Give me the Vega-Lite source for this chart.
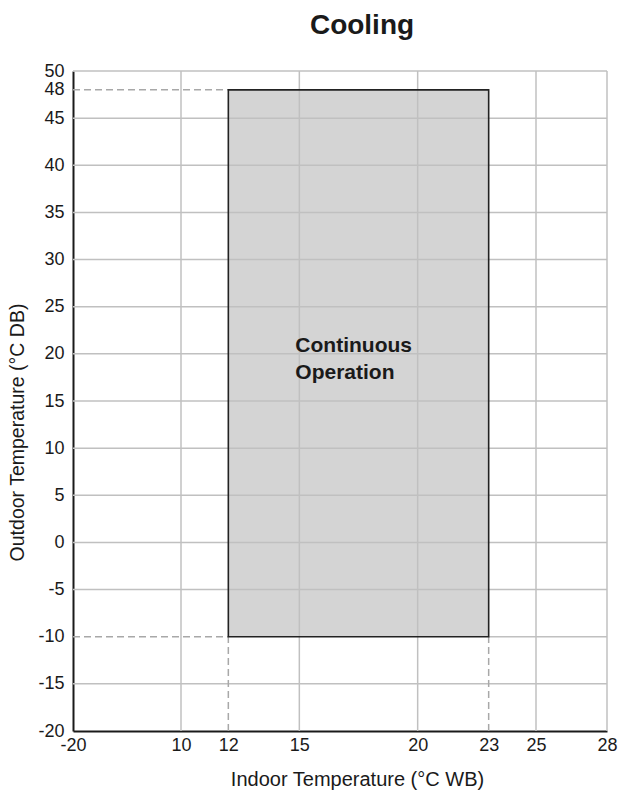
{
  "$schema": "https://vega.github.io/schema/vega-lite/v6.json",
  "width": 534,
  "height": 660,
  "autosize": {"type": "none"},
  "padding": {"left": 73, "top": 71, "right": 11, "bottom": 66},
  "background": "white",
  "config": {"view": {"stroke": null}, "font": "Liberation Sans"},
  "title": {"text": "Cooling", "fontSize": 28, "fontWeight": "bold", "color": "#1a1a1a", "font": "Liberation Sans", "dx": 22, "baseline": "alphabetic", "offset": 0},
  "datasets": {
    "zone": [{"x": 12, "x2": 23, "y": -10, "y2": 48}],
    "xgrid": [{"x": 10}, {"x": 15}, {"x": 20}, {"x": 25}, {"x": 28}],
    "ygrid": [{"y": 50}, {"y": 45}, {"y": 40}, {"y": 35}, {"y": 30}, {"y": 25}, {"y": 20}, {"y": 15}, {"y": 10}, {"y": 5}, {"y": 0}, {"y": -5}, {"y": -15}],
    "solidseg": [{"x": 23, "x2": 28, "y": -10, "y2": -10}],
    "dashed": [
      {"x": -20, "x2": 12, "y": 48, "y2": 48},
      {"x": -20, "x2": 12, "y": -10, "y2": -10},
      {"x": 12, "x2": 12, "y": -20, "y2": -10},
      {"x": 23, "x2": 23, "y": -20, "y2": -10}
    ]
  },
  "layer": [
    {
      "data": {"name": "zone"},
      "mark": {"type": "rect", "fill": "#d4d4d4", "strokeWidth": 0},
      "encoding": {
        "x": {"field": "x", "type": "quantitative",
          "scale": {"domain": [-20, 10, 28], "range": [0, 108, 534], "nice": false, "zero": false},
          "axis": {"values": [-20, 10, 12, 15, 20, 23, 25, 28], "labelExpr": "'' + datum.value", "grid": false, "ticks": false, "domainColor": "#1a1a1a", "domainWidth": 2, "labelFontSize": 18, "labelColor": "#1a1a1a", "labelPadding": 5, "labelFlush": false, "labelOverlap": false, "title": "Indoor Temperature (°C WB)", "titleFontSize": 20, "titleFontWeight": "normal", "titleColor": "#1a1a1a", "titleBaseline": "alphabetic", "titleX": 284, "titleY": 54, "titleAnchor": "middle"}},
        "x2": {"field": "x2"},
        "y": {"field": "y", "type": "quantitative",
          "scale": {"domain": [-20, 50], "nice": false, "zero": false},
          "axis": {"values": [50, 48, 45, 40, 35, 30, 25, 20, 15, 10, 5, 0, -5, -10, -15, -20], "labelExpr": "'' + datum.value", "grid": false, "ticks": false, "domainColor": "#1a1a1a", "domainWidth": 2, "labelFontSize": 18, "labelColor": "#1a1a1a", "labelPadding": 9, "labelFlush": false, "labelOverlap": false, "title": "Outdoor Temperature (°C DB)", "titleFontSize": 19.5, "titleFontWeight": "normal", "titleColor": "#1a1a1a", "titleBaseline": "alphabetic", "titleAngle": -90, "titleX": -50, "titleY": 361, "titleAnchor": "middle"}},
        "y2": {"field": "y2"}
      }
    },
    {
      "data": {"name": "xgrid"},
      "mark": {"type": "rule", "color": "#c0c0c0", "strokeWidth": 1.5},
      "encoding": {"x": {"field": "x", "type": "quantitative"}}
    },
    {
      "data": {"name": "ygrid"},
      "mark": {"type": "rule", "color": "#c0c0c0", "strokeWidth": 1.5},
      "encoding": {"y": {"field": "y", "type": "quantitative"}}
    },
    {
      "data": {"name": "solidseg"},
      "mark": {"type": "rule", "color": "#c0c0c0", "strokeWidth": 1.5},
      "encoding": {"x": {"field": "x", "type": "quantitative"}, "x2": {"field": "x2"}, "y": {"field": "y", "type": "quantitative"}, "y2": {"field": "y2"}}
    },
    {
      "data": {"name": "dashed"},
      "mark": {"type": "rule", "color": "#a8a8a8", "strokeWidth": 1.5, "strokeDash": [7, 4]},
      "encoding": {"x": {"field": "x", "type": "quantitative"}, "x2": {"field": "x2"}, "y": {"field": "y", "type": "quantitative"}, "y2": {"field": "y2"}}
    },
    {
      "data": {"name": "zone"},
      "mark": {"type": "rect", "fillOpacity": 0, "stroke": "#222222", "strokeWidth": 1.6},
      "encoding": {"x": {"field": "x", "type": "quantitative"}, "x2": {"field": "x2"}, "y": {"field": "y", "type": "quantitative"}, "y2": {"field": "y2"}}
    },
    {
      "data": {"values": [{"x": 15, "y": 20, "text": ["Continuous", "Operation"]}]},
      "mark": {"type": "text", "align": "left", "baseline": "alphabetic", "fontSize": 21, "fontWeight": "bold", "color": "#1a1a1a", "lineHeight": 27, "dx": -4, "dy": -2},
      "encoding": {"x": {"field": "x", "type": "quantitative"}, "y": {"field": "y", "type": "quantitative"}, "text": {"field": "text"}}
    }
  ]
}
